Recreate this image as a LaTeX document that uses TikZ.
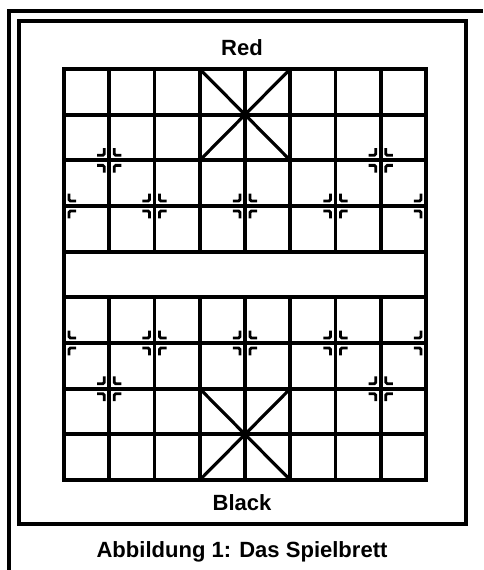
\documentclass[tikz,border=0pt]{standalone}
\usepackage{fontspec}
\setmainfont{Liberation Sans}
% one corner bracket beside a crossing: column, row, x sign, y sign
\newcommand{\quadmark}[4]{%
  \draw[mk] ({#1+(#3)*0.11},{#2+(#4)*0.27}) -- ({#1+(#3)*0.11},{#2+(#4)*0.11})
    -- ({#1+(#3)*0.27},{#2+(#4)*0.11});}
\begin{document}
\begin{tikzpicture}[x=0.03cm, y=-0.03cm,
  frame/.style={line width=3.4pt, black},
  gridline/.style={line width=3.2pt},
  palace/.style={line width=2.7pt},
  mk/.style={line width=2.4pt, rounded corners=1.2pt},
  side/.style={font=\bfseries\fontsize{18.8}{22}\selectfont}]
  \useasboundingbox (0,0) rectangle (483,570);
  % frames
  \draw[frame] (9,570) -- (9,11) -- (483,11);
  \draw[frame] (19,21) rectangle (466,524);
  \node[side] (red) at (242,48) {Red};
  \node[side] (black) at (242,503) {Black};
  \node[side] (caption) at (242,552) {Abbildung 1: Das Spielbrett};
  % board
  \begin{scope}[shift={(64,69)}, x=1.3575cm, y=-1.37cm]
    \draw[gridline] (0,0) rectangle (8,9);
    \foreach \j in {1,...,8}
      \draw[gridline] (0,\j) -- (8,\j);
    \foreach \i in {1,...,7} {
      \draw[gridline] (\i,0) -- (\i,4);
      \draw[gridline] (\i,5) -- (\i,9);
    }
    \draw[palace] (3,0) -- (5,2) (5,0) -- (3,2);
    \draw[palace] (3,7) -- (5,9) (5,7) -- (3,9);
    % marks for cannons and soldiers
    \foreach \i/\j in {1/2,7/2,2/3,4/3,6/3,2/6,4/6,6/6,1/7,7/7}
      \foreach \sx in {-1,1}
        \foreach \sy in {-1,1}
          \quadmark{\i}{\j}{\sx}{\sy};
    \foreach \j in {3,6}
      \foreach \sy in {-1,1} {
        \quadmark{0}{\j}{1}{\sy}
        \quadmark{8}{\j}{-1}{\sy}
      }
  \end{scope}
\end{tikzpicture}
\end{document}
